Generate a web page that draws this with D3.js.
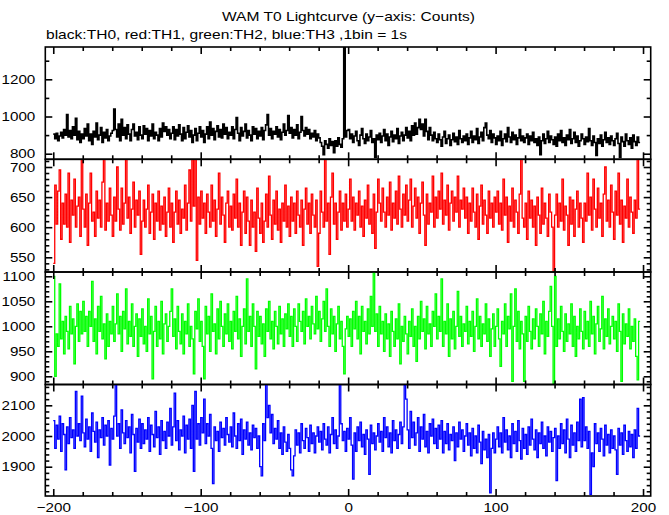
<!DOCTYPE html>
<html><head><meta charset="utf-8">
<script src="https://cdn.jsdelivr.net/npm/d3@7"></script>
<style>
html,body{margin:0;padding:0;background:#fff;}
svg{display:block;}
text{font-family:"Liberation Sans",Arial,Helvetica,sans-serif;fill:#000;}
</style>
</head><body>
<svg id="chart" width="669" height="515"></svg>
<script>
const titleText = "WAM T0 Lightcurve (y\u2212axis: Counts)";
const subtitleText = "black:TH0, red:TH1, green:TH2, blue:TH3 ,1bin = 1s";
const binStart = -200;
const binWidth = 1;

// TH0 (black) counts per 1 s bin, t = -200 .. 197
const th0 = [
905,880,910,870,895,915,885,930,900,1010,890,925,880,945,900,990,875,920,860,905,
880,935,895,960,870,905,850,920,890,965,875,900,940,860,915,885,930,870,895,910,
925,1040,930,890,960,870,985,900,940,880,955,905,870,930,960,895,915,875,945,900,
880,950,905,935,870,925,895,960,880,915,900,870,935,890,965,920,945,900,930,880,
910,945,875,930,895,955,905,870,940,880,915,950,890,925,860,900,935,870,910,945,
890,925,860,905,945,880,970,900,935,875,920,950,890,930,885,960,905,940,880,915,
900,945,880,930,995,910,870,940,895,920,960,885,925,900,870,945,905,935,880,920,
895,940,875,925,955,1010,900,935,880,920,905,945,890,930,875,915,960,900,925,1005,
910,940,885,930,900,955,880,915,1000,925,895,940,905,930,880,910,890,925,870,905,
885,860,840,795,870,850,830,880,845,865,805,870,840,885,850,835,880,1600,890,925,
930,880,905,860,895,920,870,845,900,935,880,855,905,870,890,925,860,880,780,900,
875,910,860,895,930,870,905,845,890,920,865,900,880,935,855,895,915,870,900,940,
885,920,870,950,900,965,905,940,985,930,960,895,985,920,875,940,900,870,915,880,
860,905,875,840,890,920,855,880,900,845,875,910,865,890,850,925,880,860,895,870,
905,850,885,920,860,895,875,935,855,890,915,870,940,965,900,880,925,860,905,885,
850,895,870,920,845,880,905,865,940,890,860,915,875,900,850,885,930,870,895,860,
885,905,850,895,870,915,860,880,845,890,795,870,905,855,880,920,860,895,875,850,
890,840,905,870,925,860,885,845,900,875,930,855,880,915,860,895,840,870,905,880,
850,890,865,935,870,845,895,860,790,880,855,900,840,875,915,860,885,850,895,870,
845,880,910,855,780,890,865,840,905,870,850,885,830,900,865,845,890,860
];

// TH1 (red)
const th1 = [
540,670,605,660,695,580,640,605,655,600,690,575,645,620,680,600,635,650,585,720,
630,600,655,570,640,690,610,625,585,660,615,645,600,675,720,595,640,610,665,620,
585,650,610,700,630,595,665,605,640,720,615,650,590,630,675,600,645,620,660,555,
610,645,600,630,670,590,625,655,580,640,610,660,595,635,605,650,585,625,665,600,
640,575,625,660,605,645,590,630,615,670,595,640,695,610,720,635,720,545,650,605,
660,615,640,590,655,625,600,670,610,645,585,630,690,605,650,620,575,640,660,600,
635,595,655,615,680,600,640,570,625,660,590,650,610,570,645,600,625,560,665,615,
590,640,575,610,655,600,685,620,580,645,605,660,595,630,575,640,610,670,600,635,
585,650,610,640,590,660,620,600,645,570,630,665,605,640,590,655,620,600,645,535,
590,660,625,600,720,610,640,555,650,690,605,640,580,625,660,595,640,610,655,600,
630,680,610,650,595,640,620,660,600,635,585,645,615,670,605,630,590,655,565,625,
680,640,610,665,625,600,650,620,675,595,640,615,660,605,685,630,600,655,620,670,
610,645,680,600,635,665,615,650,590,640,675,620,570,655,605,640,625,685,600,650,
615,660,630,690,605,645,620,670,595,640,660,610,650,625,685,600,645,630,665,615,
650,590,640,610,665,625,600,655,580,635,670,605,645,620,590,660,615,640,600,650,
625,660,605,640,595,680,620,650,575,635,610,665,600,645,625,590,655,720,615,600,
640,580,660,615,645,600,635,570,650,620,590,665,605,640,615,585,655,625,600,520,
620,655,600,640,610,680,595,635,620,570,650,605,645,585,630,660,600,640,615,575,
640,610,690,620,650,595,680,630,600,665,615,640,585,655,700,610,645,600,670,625,
580,660,620,690,605,645,575,635,615,680,600,650,625,590,645,615,720,630
];

// TH2 (green)
const th2 = [
1100,900,985,960,1085,975,1010,945,1020,990,955,1040,985,1015,925,1000,1045,970,1030,985,
1050,990,1020,960,1030,1000,1090,970,1015,945,1040,990,1060,975,1005,935,1025,960,1010,985,
1040,970,1005,1065,985,1020,950,1030,995,1075,965,1010,980,1045,960,1000,1025,940,1015,980,
1035,965,1000,950,1055,985,1020,895,990,1040,960,1010,975,1050,945,1005,1025,970,1000,1030,
1075,980,1015,955,1040,990,965,1025,945,1010,985,1045,960,1000,975,905,1030,995,1055,970,
1010,960,895,1040,985,1020,950,1065,990,1005,945,1035,975,1050,1000,960,1025,985,1045,970,
1010,955,1030,990,1060,975,1015,940,1000,1035,965,1095,990,1020,960,1045,1000,915,1030,980,
1020,965,1005,940,1035,990,1050,975,1010,955,1030,1000,965,1040,985,1015,960,1025,995,1045,
980,1020,960,1035,1000,970,1045,1010,990,1030,965,1055,1000,1020,975,1040,1005,985,1060,995,
1030,970,1015,1050,990,1075,1000,960,1035,985,1020,950,1005,1040,975,1010,960,905,995,1020,
980,1015,960,1030,995,1050,975,1020,945,1040,990,1010,965,1035,985,1060,1000,1108,990,1025,
960,1040,985,1010,950,1025,975,1005,940,1030,990,960,1015,975,1045,925,1000,970,1020,985,
945,1010,980,1035,960,1000,930,1020,975,1050,990,1015,955,1040,985,1005,960,1030,1000,1065,
975,1020,990,1095,960,1010,985,1045,940,1015,975,1030,955,1000,1070,980,1020,960,1005,990,
1040,965,1010,980,1030,950,1000,1055,975,1020,960,1005,985,1045,970,1015,940,995,1025,960,
1000,1035,975,920,1010,985,1045,960,1020,995,1065,890,1000,1075,970,1030,955,1010,985,890,
1020,970,1040,990,955,1015,975,1035,1000,960,1025,985,1050,945,1010,980,1030,1080,1000,885,
1100,960,1015,975,1040,990,950,1025,970,1005,985,1045,960,1020,940,1000,975,1035,990,955,
1030,975,1010,960,1050,985,1020,945,1005,1040,970,995,1060,955,1015,980,1035,965,1000,1020,
975,1010,950,1045,990,890,1025,965,1005,980,1035,955,1000,970,1015,940,893,1010
];

// TH3 (blue)
const th3 = [
2050,1960,2035,1990,2065,1950,2040,2005,1890,2030,1975,2060,1995,2020,1960,2145,2000,2040,1985,2130,
2010,1965,2055,1990,2030,1950,2075,2015,1980,2045,1930,2020,1995,2060,1970,2035,2000,2050,1905,2025,
1990,2065,2170,2000,2040,1960,2085,2010,1975,2050,1995,2030,1945,2070,2005,1885,2025,1980,2055,1960,
2040,1975,2020,1990,2060,1950,2035,2005,1965,2080,1995,2030,1940,2050,1985,2015,1960,2045,2000,2090,
1970,2030,2140,1985,2050,1955,2020,2000,2065,1945,2035,1990,2055,1960,2100,1885,2145,1990,2040,1970,
2060,2010,2120,1975,2040,2000,2070,1960,1845,2030,1985,2015,1950,2045,1995,2025,1970,2060,2005,1980,
2030,1965,2075,2000,1960,2040,1985,2055,1940,2020,1990,2045,1970,2010,1955,2035,1995,2025,1960,2000,
1900,1870,2040,1985,2170,2060,2100,2010,2070,1975,2025,1990,2050,1960,2010,1940,2030,1980,1950,2005,
1960,1890,1870,1935,2020,1970,2010,1945,2040,1985,1960,2025,1995,1950,2035,1975,2010,1945,2000,2030,
1980,2015,1955,2040,1990,1970,2030,1945,2005,2060,1975,2020,1960,2000,2170,2040,1985,2015,1950,2025,
1990,2060,1970,1860,2010,1950,2030,1985,2045,1965,2005,1940,2020,1990,1875,2035,1975,2010,1955,2000,
2040,1980,2015,1950,2060,1995,2030,1965,2010,1945,2050,1985,2020,1960,2005,2045,1975,2030,2165,2120,
2020,1960,2080,1995,2045,1970,2010,2060,1950,2030,1990,2070,1965,2015,1945,2040,2000,2055,1975,2025,
1960,2035,1990,2050,1945,2015,1975,2040,1955,2005,1985,2030,1920,2010,1965,2045,1990,2020,1950,2000,
2040,1970,2010,1935,2025,1960,2000,1945,2035,1980,1910,2015,1955,1990,1930,2005,1815,1960,2010,1945,
1990,2030,1965,2010,1945,2060,1980,2020,1955,2000,1930,2040,1975,2015,1950,2050,1985,1925,2025,1960,
2005,1940,2030,1970,2055,1990,1955,2020,1930,2010,1975,2045,1960,2000,1935,2030,1980,2015,1950,1995,
2025,1855,2000,1960,2040,1975,2020,1945,2055,1990,1930,2035,1970,2010,1950,2045,1985,2120,1965,2125,
1985,2030,1960,2015,1810,1945,1900,2040,1975,2010,1950,2025,1990,1935,2035,1970,2005,1945,2020,1960,
2000,1955,1875,2025,1970,2010,1940,2035,1985,1950,2015,1965,2005,1930,2020,1960,2090,2000
];

// axis settings
const xDomain = [-205.4, 205.2];
const xMajorTicks = [-200, -100, 0, 100, 200];
const xMinorStep = 20;

const seriesColors = ["#000000", "#ff0000", "#00ff00", "#0000ff"];
const seriesValues = [th0, th1, th2, th3];
const yDomains = [[769.9, 1373.7], [525.6, 712.8], [883.6, 1108.6], [1804.6, 2167.8]];
const yMajorTicks = [[800, 1000, 1200], [550, 600, 650, 700], [900, 950, 1000, 1050, 1100], [1900, 2000, 2100]];
const yMinorSteps = [100, 10, 10, 20];
const lineWidths = [1.6, 1.3, 1.3, 1.3];

// layout
const W = 669, H = 515;
const plotLeft = 45.3, plotRight = 650.7;
const panelEdges = [47, 159.3, 272, 384.5, 496];
const majorLen = 7, minorLen = 4;
const stretch = 1.17;

const svg = d3.select("#chart");
svg.append("rect").attr("width", W).attr("height", H).attr("fill", "#fff");

const x = d3.scaleLinear().domain(xDomain).range([plotLeft, plotRight]);
const xMinor = d3.range(-200, 200.001, xMinorStep).filter(v => !xMajorTicks.includes(v));

function stretchText(sel, factor) {
  sel.each(function () {
    const len = this.getComputedTextLength();
    d3.select(this).attr("textLength", len * factor).attr("lengthAdjust", "spacingAndGlyphs");
  });
}

const defs = svg.append("defs");

seriesValues.forEach((vals, i) => {
  const top = panelEdges[i], bottom = panelEdges[i + 1];
  const y = d3.scaleLinear().domain(yDomains[i]).range([bottom, top]);

  defs.append("clipPath").attr("id", "clip" + i)
    .append("rect").attr("x", plotLeft).attr("y", top)
    .attr("width", plotRight - plotLeft).attr("height", bottom - top);

  const pts = vals.map((v, k) => [binStart + k * binWidth, v]);
  pts.push([binStart + vals.length * binWidth, vals[vals.length - 1]]);

  const line = d3.line().x(d => x(d[0])).y(d => y(d[1])).curve(d3.curveStepAfter);

  svg.append("path")
    .attr("clip-path", `url(#clip${i})`)
    .attr("d", line(pts))
    .attr("fill", "none")
    .attr("stroke", seriesColors[i])
    .attr("stroke-width", lineWidths[i])
    .attr("stroke-linejoin", "miter");

  const g = svg.append("g");
  const [lo, hi] = yDomains[i];
  const step = yMinorSteps[i];
  const yMinor = d3.range(Math.ceil(lo / step) * step, hi, step).filter(v => !yMajorTicks[i].includes(v));

  // left axis (labels)
  const left = g.append("g").attr("transform", `translate(${plotLeft},0)`)
    .call(d3.axisLeft(y).tickValues(yMajorTicks[i]).tickSizeInner(-majorLen).tickSizeOuter(0).tickPadding(10).tickFormat(d3.format("d")));
  g.append("g").attr("transform", `translate(${plotLeft},0)`)
    .call(d3.axisLeft(y).tickValues(yMinor).tickSizeInner(-minorLen).tickSizeOuter(0).tickFormat(""));
  // right axis
  g.append("g").attr("transform", `translate(${plotRight},0)`)
    .call(d3.axisRight(y).tickValues(yMajorTicks[i]).tickSizeInner(-majorLen).tickSizeOuter(0).tickFormat(""));
  g.append("g").attr("transform", `translate(${plotRight},0)`)
    .call(d3.axisRight(y).tickValues(yMinor).tickSizeInner(-minorLen).tickSizeOuter(0).tickFormat(""));
  // top axis
  g.append("g").attr("transform", `translate(0,${top})`)
    .call(d3.axisTop(x).tickValues(xMajorTicks).tickSizeInner(-majorLen).tickSizeOuter(0).tickFormat(""));
  g.append("g").attr("transform", `translate(0,${top})`)
    .call(d3.axisTop(x).tickValues(xMinor).tickSizeInner(-minorLen).tickSizeOuter(0).tickFormat(""));
  // bottom axis
  const isLast = i === seriesValues.length - 1;
  g.append("g").attr("class", isLast ? "xlab" : "").attr("transform", `translate(0,${bottom})`)
    .call(d3.axisBottom(x).tickValues(xMajorTicks).tickSizeInner(-majorLen).tickSizeOuter(0).tickPadding(7)
      .tickFormat(isLast ? d3.format("d") : ""));
  g.append("g").attr("transform", `translate(0,${bottom})`)
    .call(d3.axisBottom(x).tickValues(xMinor).tickSizeInner(-minorLen).tickSizeOuter(0).tickFormat(""));

  g.selectAll(".domain").remove();
  g.selectAll(".tick line").attr("stroke", "#000").attr("stroke-width", 1.6);
  g.selectAll(".tick text").attr("font-size", 13).attr("font-family", '"Liberation Sans",Arial,Helvetica,sans-serif').attr("fill", "#000");

  // frame
  g.append("rect").attr("x", plotLeft).attr("y", top)
    .attr("width", plotRight - plotLeft).attr("height", bottom - top)
    .attr("fill", "none").attr("stroke", "#000").attr("stroke-width", 1.6);

  stretchText(left.selectAll(".tick text"), stretch);
});
stretchText(svg.selectAll(".xlab .tick text"), stretch);

// titles
const title = svg.append("text").attr("x", 348.5).attr("y", 21).attr("text-anchor", "middle")
  .attr("font-size", 13).text(titleText);
title.attr("textLength", 253).attr("lengthAdjust", "spacingAndGlyphs");
const sub = svg.append("text").attr("x", 46).attr("y", 39).attr("text-anchor", "start")
  .attr("font-size", 13).text(subtitleText);
sub.attr("textLength", 361).attr("lengthAdjust", "spacingAndGlyphs");
</script>
</body></html>
